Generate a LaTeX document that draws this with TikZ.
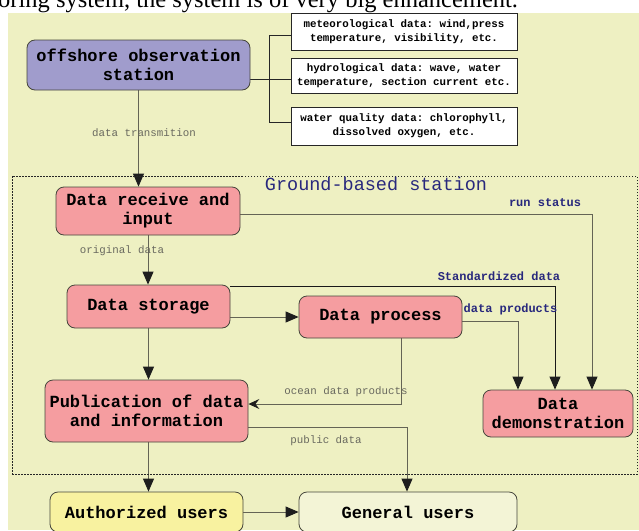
\documentclass[tikz,border=0pt]{standalone}
\usepackage{fontspec}
\setmainfont{Liberation Serif}
\setmonofont{Liberation Mono}
\usetikzlibrary{arrows.meta,calc,backgrounds}
\definecolor{bgy}{RGB}{238,240,194}
\definecolor{pinkf}{RGB}{245,157,160}
\definecolor{purp}{RGB}{160,156,204}
\definecolor{authy}{RGB}{248,242,160}
\definecolor{genf}{RGB}{243,244,214}
\definecolor{navy}{RGB}{40,40,125}
\definecolor{lbl}{RGB}{105,105,95}
\definecolor{linec}{RGB}{100,100,85}
\definecolor{edgec}{RGB}{70,70,60}
\definecolor{tipc}{RGB}{30,30,30}
\begin{document}
\begin{tikzpicture}[x=1pt,y=-1pt,
  box/.style={draw=edgec,line width=0.8pt,rounded corners=8pt,align=center,font=\fontsize{17}{19}\selectfont\ttfamily\bfseries,inner sep=0pt},
  info/.style={draw=black!85,line width=0.9pt,fill=white,align=center,font=\fontsize{10.8}{14}\selectfont\ttfamily\bfseries,inner sep=0pt,minimum width=226pt},
  conn/.style={draw=linec,line width=0.9pt},
  arr/.style={conn,-{Triangle[length=13pt,width=11pt,color=tipc]}},
  glbl/.style={text=lbl,font=\fontsize{10.8}{12}\selectfont\ttfamily,inner sep=0pt},
  nlbl/.style={text=navy,font=\fontsize{12}{13}\selectfont\ttfamily\bfseries,inner sep=0pt},
]
\useasboundingbox (0,0) rectangle (639,530);
\clip (0,0) rectangle (639,530);

\node[anchor=base west,inner sep=0pt,font=\fontsize{24.5}{26}\selectfont] (cap) at (-2,8) {oring system, the system is of very big enhancement.};

\node[draw=black!85,dash pattern=on 1.5pt off 1.5pt,line width=0.7pt,minimum width=625pt,minimum height=298pt,inner sep=0pt] (gbs) at (324.5,325) {};
\node[text=navy,font=\fontsize{18.5}{20}\selectfont\ttfamily,inner sep=0pt] (gtitle) at (376,184) {Ground-based station};

\node[box,fill=purp,minimum width=223pt,minimum height=50pt] (station) at (138.5,65) {offshore observation\\station};
\node[info,minimum height=37pt] (met) at (404,31.5) {meteorological data: wind,press\\temperature, visibility, etc.};
\node[info,minimum height=35pt] (hyd) at (404,75.5) {hydrological data: wave, water\\temperature, section current etc.};
\node[info,minimum height=38pt] (wq) at (404,126) {water quality data: chlorophyll,\\dissolved oxygen, etc.};

\node[box,fill=pinkf,minimum width=184pt,minimum height=48pt] (recv) at (148,211) {Data receive and\\input};
\node[box,fill=pinkf,minimum width=163pt,minimum height=43pt] (stor) at (148.5,306.5) {Data storage};
\node[box,fill=pinkf,minimum width=163pt,minimum height=42pt] (proc) at (380.5,317) {Data process};
\node[box,fill=pinkf,minimum width=203pt,minimum height=62pt] (pub) at (146.5,411) {Publication of data\\and information};
\node[box,fill=pinkf,minimum width=150pt,minimum height=47pt] (demo) at (558,413.5) {Data\\demonstration};
\node[box,fill=authy,minimum width=193pt,minimum height=40pt] (auth) at (146.5,512) {Authorized users};
\node[box,fill=genf,minimum width=218pt,minimum height=40pt] (gen) at (408,512) {General users};

\node[glbl] (l1) at (144,133) {data transmition};
\node[glbl] (l2) at (122,251) {original data};
\node[nlbl] (l3) at (545,203) {run status};
\node[nlbl] (l4) at (499,276) {Standardized data};
\node[nlbl] (l5) at (510.5,309) {data products};
\node[glbl] (l6) at (346,392) {ocean data products};
\node[glbl] (l7) at (326,441) {public data};

\begin{scope}[on background layer]
\fill[white] (0,0) rectangle (639,530);
\fill[bgy] (8,13) rectangle (639,530);
\draw[conn,black!85] ([yshift=-14pt]station.east) -- ([yshift=-3.5pt]hyd.west);
\draw[conn,black!85] ([yshift=-3.5pt]met.west) -- ++(-21,0) |- ([yshift=4pt]wq.west);
\draw[arr] (station.south) -- (station.south |- recv.north);
\draw[arr] (recv.south) -- (recv.south |- stor.north);
\draw[arr] (stor.south) -- (stor.south |- pub.north);
\draw[arr] (stor.east |- proc.west) -- (proc.west);
\draw[arr] ([xshift=2pt]pub.south) -- ([xshift=2pt]pub.south |- auth.north);
\draw[arr] (auth.east) -- (gen.west);
\draw[arr] ([yshift=-3.5pt]recv.east) -| ([xshift=34pt]demo.north);
\draw[arr,draw=black!90] ([yshift=-2pt]stor.north east) -| ([xshift=-3pt]demo.north);
\draw[arr] ([yshift=-4pt]proc.east) -| ([xshift=-40pt]demo.north);
\draw[conn,-{Stealth[length=11pt,width=10pt,inset=4pt,color=tipc]}] ([xshift=20.5pt]proc.south) |- ([yshift=7pt]pub.east);
\draw[arr] ([yshift=-16pt]pub.east) -| ([xshift=-1pt]gen.north);
\end{scope}
\end{tikzpicture}
\end{document}
